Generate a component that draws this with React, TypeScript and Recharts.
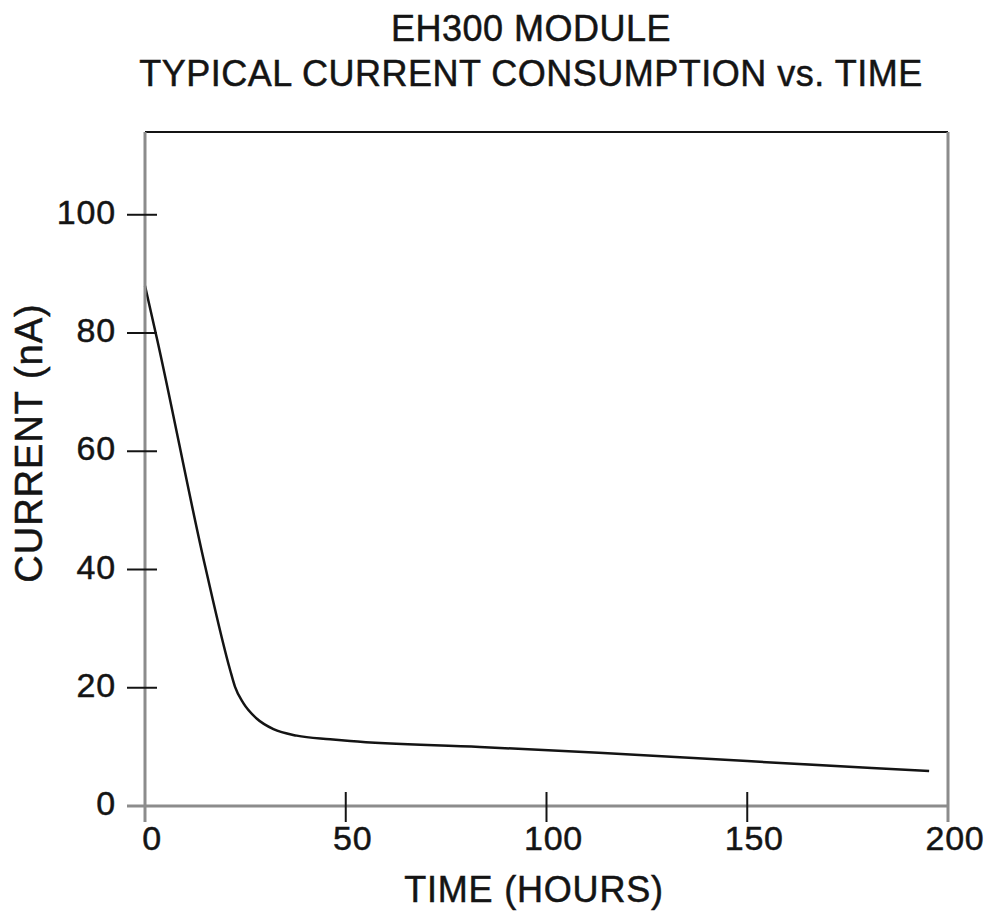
import { LineChart, Line, XAxis, YAxis, ReferenceLine } from 'recharts';

// hours vs. nA
const HOURS = [0, 3, 15, 21.2, 22.4, 24.5, 27.8, 32, 37.8, 46.1, 51.1, 83.4, 113, 150, 195.3];
const CURRENT_NA = [88, 79, 40.5, 23, 20.2, 17.4, 14.8, 13, 11.9, 11.3, 11, 10, 9, 7.6, 5.9];

const X_TICKS = [0, 50, 100, 150, 200];
const Y_TICKS = [0, 20, 40, 60, 80, 100];
const X_MAX = 200;
const Y_MAX = 114;

const TITLE_LINES = ['EH300 MODULE', 'TYPICAL CURRENT CONSUMPTION vs. TIME'];
const X_LABEL = 'TIME (HOURS)';
const Y_LABEL = 'CURRENT (nA)';

const data = HOURS.map((h, i) => ({ hours: h, current: CURRENT_NA[i] }));

const FONT = '"Liberation Sans", Arial, Helvetica, sans-serif';
const INK = '#141414';
const AXIS_GREY = '#8c8c8c';
// a hairline stroke thickens the glyphs a little, like the scanned original
const TEXT_WEIGHT = { stroke: INK, strokeWidth: 0.5 };

function YTick({ x, y, payload }: any) {
  const edge = payload.value === 0;
  return (
    <g>
      <line
        x1={x - 18}
        x2={edge ? x : x + 12}
        y1={y}
        y2={y}
        stroke={edge ? AXIS_GREY : INK}
        strokeWidth={edge ? 3 : 2}
      />
      <text
        x={x - 29}
        y={y + 9}
        textAnchor="end"
        fontFamily={FONT}
        fontSize={34}
        letterSpacing={0.8}
        fill={INK}
        {...TEXT_WEIGHT}
      >
        {payload.value}
      </text>
    </g>
  );
}

function XTick({ x, y, payload }: any) {
  const edge = payload.value === 0 || payload.value === X_MAX;
  return (
    <g>
      <line
        x1={x}
        x2={x}
        y1={edge ? y : y - 14}
        y2={y + 16}
        stroke={edge ? AXIS_GREY : INK}
        strokeWidth={edge ? 3 : 2}
      />
      <text
        x={x + 7}
        y={y + 44}
        textAnchor="middle"
        fontFamily={FONT}
        fontSize={34}
        letterSpacing={0.8}
        fill={INK}
        {...TEXT_WEIGHT}
      >
        {payload.value}
      </text>
    </g>
  );
}

export default function App() {
  return (
    <div style={{ position: 'absolute', left: 0, top: 0, width: 992, height: 912, background: '#fff' }}>
      <LineChart
        width={992}
        height={912}
        data={data}
        margin={{ top: 132, right: 44, bottom: 46, left: 45 }}
      >
        <XAxis
          dataKey="hours"
          type="number"
          domain={[0, X_MAX]}
          ticks={X_TICKS}
          interval={0}
          height={60}
          tickSize={0}
          tickMargin={0}
          tickLine={false}
          tick={<XTick />}
          axisLine={{ stroke: AXIS_GREY, strokeWidth: 3 }}
        />
        <YAxis
          type="number"
          domain={[0, Y_MAX]}
          ticks={Y_TICKS}
          interval={0}
          width={100}
          tickSize={0}
          tickMargin={0}
          tickLine={false}
          tick={<YTick />}
          axisLine={{ stroke: AXIS_GREY, strokeWidth: 3 }}
        />
        <ReferenceLine y={Y_MAX} stroke={INK} strokeWidth={2} />
        <ReferenceLine x={X_MAX} stroke={AXIS_GREY} strokeWidth={3} />
        <Line
          dataKey="current"
          type="monotone"
          stroke={INK}
          strokeWidth={2.5}
          dot={false}
          isAnimationActive={false}
        />
      </LineChart>
      <svg
        width={992}
        height={912}
        style={{ position: 'absolute', left: 0, top: 0, pointerEvents: 'none' }}
      >
        <g fontFamily={FONT} fill={INK} {...TEXT_WEIGHT}>
          <text x={531} y={41} textAnchor="middle" fontSize={36} letterSpacing={0.5}>
            {TITLE_LINES[0]}
          </text>
          <text x={531} y={86} textAnchor="middle" fontSize={36} letterSpacing={0.5}>
            {TITLE_LINES[1]}
          </text>
          <text x={534} y={902} textAnchor="middle" fontSize={36} letterSpacing={0.8}>
            {X_LABEL}
          </text>
          <text
            x={42}
            y={443}
            textAnchor="middle"
            fontSize={38}
            letterSpacing={1}
            transform="rotate(-90, 42, 443)"
          >
            {Y_LABEL}
          </text>
        </g>
      </svg>
    </div>
  );
}
